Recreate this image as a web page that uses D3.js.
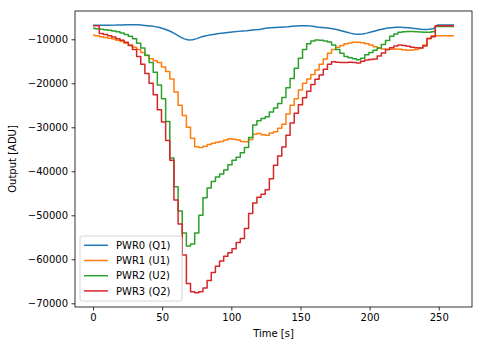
<!DOCTYPE html>
<html><head><meta charset="utf-8">
<script src="https://cdn.jsdelivr.net/npm/d3@7"></script>
<style>body{margin:0;background:#fff}svg{display:block;font-family:"DejaVu Sans",sans-serif}</style>
</head><body><svg id="c" width="483" height="347"></svg>
<script>
const times = d3.range(0, 262, 3);
const seriesNames = ["PWR0 (Q1)", "PWR1 (U1)", "PWR2 (U2)", "PWR3 (Q2)"];
const seriesColors = ["#1f77b4", "#ff7f0e", "#2ca02c", "#d62728"];
const pwr0 = [-6800,-6800,-6800,-6800,-6800,-6780,-6760,-6750,-6720,-6700,-6680,-6720,-6800,-6900,-7000,-7120,-7300,-7600,-7950,-8350,-8900,-9450,-9900,-10150,-10100,-9850,-9500,-9250,-9050,-8900,-8750,-8600,-8500,-8400,-8300,-8200,-8100,-8050,-7950,-7850,-7750,-7600,-7450,-7350,-7300,-7250,-7200,-7150,-7050,-6980,-6920,-6900,-6950,-7050,-7200,-7300,-7400,-7500,-7650,-7850,-8100,-8350,-8600,-8800,-8870,-8800,-8600,-8350,-8100,-7850,-7650,-7450,-7350,-7280,-7270,-7300,-7400,-7500,-7600,-7700,-7750,-7700,-7600,-6750,-6750,-6750,-6750,-6750];
const pwr1 = [-9100,-9200,-9450,-9600,-9750,-9950,-10200,-10500,-10900,-11300,-11800,-12300,-13000,-13700,-14400,-14900,-15300,-16300,-17300,-19000,-22000,-25000,-27300,-30000,-32500,-34400,-34600,-34300,-33900,-33600,-33400,-33200,-32900,-32600,-32700,-32900,-33200,-33300,-32800,-31600,-31400,-31700,-31800,-31300,-31000,-30200,-29300,-27000,-25000,-23500,-21500,-20000,-19000,-18000,-17000,-15700,-14500,-13200,-12300,-11800,-11400,-11000,-10850,-10700,-10700,-10800,-11000,-11300,-11700,-12000,-12200,-12300,-12250,-12200,-12250,-12350,-12500,-12450,-12300,-12000,-11300,-9800,-9200,-9200,-9200,-9200,-9200,-9200];
const pwr2 = [-7500,-7600,-7700,-7850,-7950,-8100,-8270,-8550,-8900,-9300,-9900,-10900,-12000,-13600,-15300,-17500,-20400,-23500,-28700,-37000,-43500,-49000,-54000,-57000,-56500,-54000,-50000,-46000,-43800,-42300,-41300,-40600,-39700,-38500,-37500,-36800,-35800,-34600,-32300,-29500,-28500,-28000,-27600,-26500,-25600,-24600,-23200,-21000,-18900,-16600,-14300,-12300,-11000,-10400,-10150,-10200,-10400,-10600,-11300,-12300,-13200,-13900,-14200,-14400,-14650,-14300,-13500,-13000,-12500,-12000,-11200,-10300,-9300,-8800,-8400,-8270,-8250,-8250,-8280,-8350,-8400,-8400,-8300,-7100,-7100,-7100,-7100,-7100];
const pwr3 = [-6950,-6950,-8700,-8900,-9200,-9500,-9850,-10200,-10700,-11400,-12300,-13900,-15700,-17800,-20000,-22600,-26000,-28800,-33000,-37500,-46500,-52000,-59000,-65500,-67400,-67600,-67400,-66500,-64800,-63000,-61600,-60400,-59300,-58500,-57600,-56200,-55300,-53000,-49600,-47200,-45900,-45200,-44200,-41700,-38600,-36500,-34500,-31800,-29000,-26800,-24900,-23300,-21800,-20300,-19100,-18100,-16800,-15700,-15100,-15200,-15250,-15250,-15200,-15250,-15400,-15000,-14700,-14600,-14500,-13800,-13100,-12300,-11900,-11500,-11300,-11400,-11600,-11800,-11900,-12000,-11500,-9800,-9400,-6950,-6950,-6950,-6950,-6950];
const xTicks = [0, 50, 100, 150, 200, 250];
const yTicks = [-10000, -20000, -30000, -40000, -50000, -60000, -70000];
const xLabel = "Time [s]";
const yLabel = "Output [ADU]";

const svg = d3.select("#c");
const L = 75, R = 472, T = 11, B = 307;
const x = d3.scaleLinear().domain([-13.05, 274.05]).range([L, R]);
const y = d3.scaleLinear().domain([-70840, -3570]).range([B, T]);

const data = [pwr0, pwr1, pwr2, pwr3];
const g = svg.append("g");
data.forEach((s, k) => {
  const line = d3.line().x((d, i) => x(times[i])).y(d => y(d))
    .curve(k === 0 ? d3.curveLinear : d3.curveStep);
  g.append("path").attr("d", line(s)).attr("fill", "none")
    .attr("stroke", seriesColors[k]).attr("stroke-width", 1.5)
    .attr("stroke-linejoin", "round");
});

const xa = svg.append("g").attr("transform", `translate(0,${B})`)
  .call(d3.axisBottom(x).tickValues(xTicks).tickSize(3.5).tickPadding(3.5).tickFormat(d3.format("d")));
const ya = svg.append("g").attr("transform", `translate(${L},0)`)
  .call(d3.axisLeft(y).tickValues(yTicks).tickSize(3.5).tickPadding(3.5).tickFormat(d3.format("d")));
[xa, ya].forEach(a => {
  a.select(".domain").remove();
  a.selectAll("text").attr("font-size", 10).attr("fill", "#000").attr("font-family", "DejaVu Sans");
  a.selectAll("line").attr("stroke", "#000").attr("stroke-width", 0.8);
});
svg.append("rect").attr("x", L).attr("y", T).attr("width", R - L).attr("height", B - T)
  .attr("fill", "none").attr("stroke", "#000").attr("stroke-width", 0.8);

svg.append("text").attr("x", (L + R) / 2).attr("y", 337).attr("text-anchor", "middle")
  .attr("font-size", 10).text(xLabel);
svg.append("text").attr("transform", `translate(16,${(T + B) / 2}) rotate(-90)`)
  .attr("text-anchor", "middle").attr("font-size", 10).text(yLabel);

const lg = svg.append("g");
lg.append("rect").attr("x", 80).attr("y", 236).attr("width", 102).attr("height", 65).attr("rx", 2)
  .attr("fill", "#fff").attr("fill-opacity", 0.8).attr("stroke", "#ccc").attr("stroke-width", 0.8);
seriesNames.forEach((n, k) => {
  const yy = 245.3 + k * 15.2;
  lg.append("line").attr("x1", 84).attr("x2", 108).attr("y1", yy).attr("y2", yy)
    .attr("stroke", seriesColors[k]).attr("stroke-width", 1.5);
  lg.append("text").attr("x", 116).attr("y", yy + 3.6).attr("font-size", 10).text(n);
});
</script></body></html>
